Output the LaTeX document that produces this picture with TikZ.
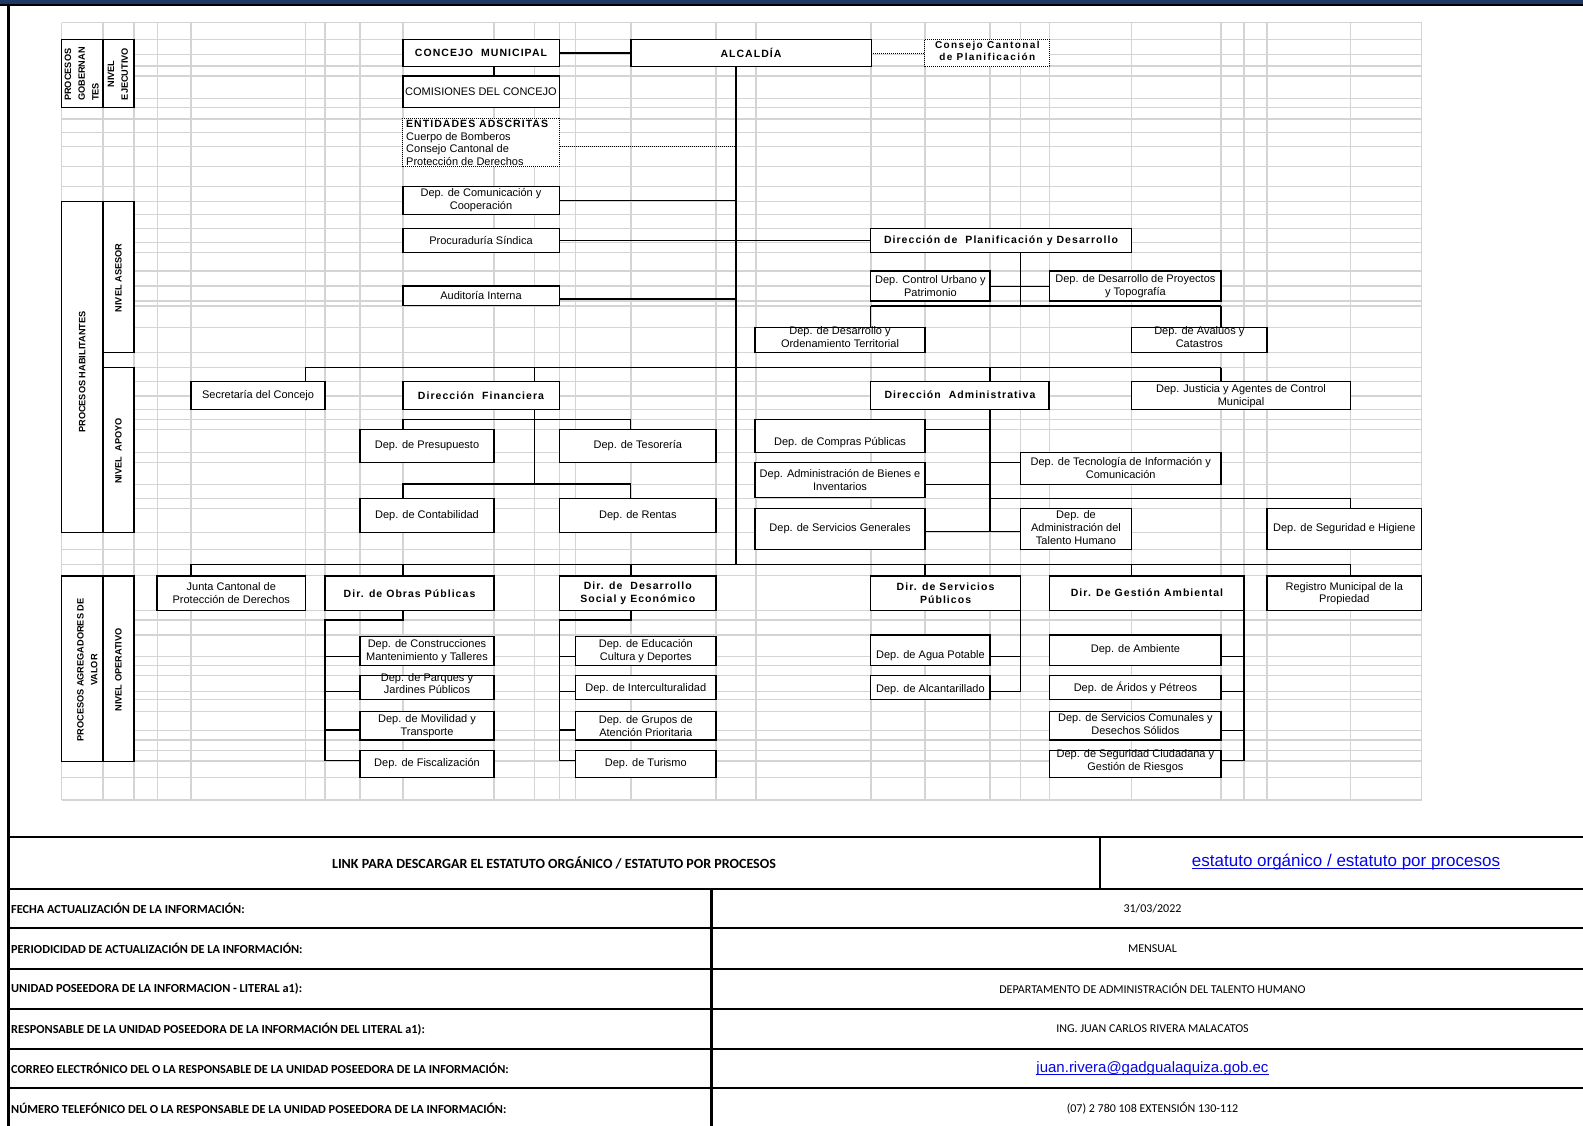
\documentclass[tikz,border=0pt]{standalone}
\usepackage{fontspec}
\setmainfont{Liberation Sans}
\newfontfamily\bspfont[LetterSpace=10]{Liberation Sans}
\newfontfamily\bspfontw[LetterSpace=14]{Liberation Sans}
\newfontfamily\carlfont{Carlito}
\usetikzlibrary{calc}
\pgfdeclarelayer{bg}
\pgfsetlayers{bg,main}
\definecolor{navy}{RGB}{31,56,100}
\definecolor{gridgray}{RGB}{212,212,212}
\definecolor{linkblue}{RGB}{5,5,230}
\tikzset{
 box/.style={draw=black,line width=1.3pt,fill=white,inner sep=0pt,outer sep=0pt},
 dbox/.style={draw=black,line width=0.9pt,dash pattern=on 1pt off 1pt,fill=white,inner sep=0pt,outer sep=0pt},
 conn/.style={draw=black,line width=1.3pt},
 dconn/.style={draw=black,line width=0.9pt,dash pattern=on 1pt off 1pt},
 gline/.style={draw=gridgray,line width=1.2pt},
 tline/.style={draw=black,line width=2.2pt},
 txt/.style={inner sep=0pt,align=center,font=\fontsize{11}{12.5}\selectfont},
 btxt/.style={inner sep=0pt,align=center,font=\bspfont\bfseries\fontsize{10.5}{13}\selectfont},
 bwtxt/.style={inner sep=0pt,align=center,font=\bspfontw\bfseries\fontsize{10}{12.2}\selectfont},
 sidelbl/.style={inner sep=0pt,align=center,rotate=90,font=\bfseries\fontsize{9.2}{13.8}\selectfont},
 tlab/.style={inner sep=0pt,anchor=west,font=\carlfont\bfseries\fontsize{12.3}{14}\selectfont},
 tbig/.style={inner sep=0pt,font=\carlfont\bfseries\fontsize{14}{16}\selectfont},
 tval/.style={inner sep=0pt,font=\carlfont\fontsize{12}{14}\selectfont},
 lnktxt/.style={inner sep=0pt,text=linkblue,font=\fontsize{17}{19}\selectfont},
 mailtxt/.style={inner sep=0pt,text=linkblue,font=\fontsize{15}{17}\selectfont},
}
\newcommand\mybox[6][box]{\node[#1,anchor=north west,minimum width={#4-#2},minimum height={#5-#3}] (#6) at (#2,#3) {};}
\newcommand\mytext[5][txt]{\node[#1] (#2) at (#3,#4) {#5};}
\begin{document}
\begin{tikzpicture}[x=1pt,y=-1pt]
\useasboundingbox (0,0) rectangle (1583,1126);
% top band and frame
\fill[navy] (0,0) rectangle (1583,4.3);
\fill[black] (0,4.3) rectangle (1583,6.3);
\draw[line width=3pt] (8,5) -- (8,1126);

% ---------- side labels ----------
\mybox{61.8}{39.3}{102.9}{107.7}{pg}
\mybox{102.9}{39.3}{133.9}{107.7}{ne}
\mybox{61.8}{201.7}{102.9}{532.3}{ph}
\mybox{102.9}{201.7}{133.9}{352.3}{na}
\mybox{102.9}{367.7}{133.9}{532.3}{nap}
\mybox{61.8}{576}{102.9}{761.7}{pav}
\mybox{102.9}{576}{133.9}{761.7}{nop}
\mytext[sidelbl,align=left]{tpg}{81.7}{74}{PROCESOS\\GOBERNAN\\TES}
\mytext[sidelbl]{tne}{117.9}{74}{NIVEL\\EJECUTIVO}
\mytext[sidelbl]{tph}{82.3}{372}{PROCESOS HABILITANTES}
\mytext[sidelbl]{tna}{118.4}{278}{NIVEL ASESOR}
\mytext[sidelbl]{tnap}{118.4}{451}{NIVEL\ \ APOYO}
\mytext[sidelbl]{tpav}{87.3}{670}{PROCESOS AGREGADORES DE\\VALOR}
\mytext[sidelbl]{tnop}{118.4}{670}{NIVEL OPERATIVO}

% ---------- executive level ----------
\mybox{402.9}{39.3}{559.6}{66.7}{concejo}
\mybox{631}{39.3}{871.3}{66.7}{alcaldia}
\mybox[dbox]{924.8}{39.3}{1049.8}{66.7}{ccp}
\mybox{402.9}{76}{559.6}{107.7}{comis}
\mybox[dbox]{402.9}{118.3}{559.6}{166.7}{ent}
\mytext[btxt]{tconcejo}{481}{53.3}{CONCEJO\ \ MUNICIPAL}
\mytext[btxt]{talc}{751}{53.3}{ALCALDÍA}
\mytext[bwtxt]{tccp}{987.3}{50.6}{Consejo Cantonal\\de Planificación}
\mytext{tcomis}{481}{91.5}{COMISIONES DEL CONCEJO}
\mytext[btxt,anchor=west]{tent1}{406}{124.3}{ENTIDADES ADSCRITAS}
\mytext[txt,anchor=west]{tent2}{406}{137.3}{Cuerpo de Bomberos}
\mytext[txt,anchor=west]{tent3}{406}{150}{Consejo Cantonal de}
\mytext[txt,anchor=west]{tent4}{406}{161.7}{Protección de Derechos}

% ---------- advisory level ----------
\mybox{402.9}{186.7}{559.6}{214.3}{comu}
\mybox{402.9}{228.3}{559.6}{252.3}{proc}
\mybox{402.9}{286}{559.6}{305.3}{aud}
\mybox{870.8}{228.3}{1131.6}{252.3}{plan}
\mybox{870.8}{271}{990}{301}{curb}
\mybox{1049.8}{271}{1221}{301}{dproy}
\mybox{755}{327.7}{925}{352.7}{dord}
\mybox{1131.6}{327.7}{1267}{352.7}{dava}
\mytext{tcomu}{481}{200}{Dep. de Comunicación y\\Cooperación}
\mytext{tproc}{481}{241}{Procuraduría Síndica}
\mytext{taud}{481}{296}{Auditoría Interna}
\mytext[btxt]{tplan}{1001}{240.7}{Dirección de\ \ Planificación y Desarrollo}
\mytext{tcurb}{930.4}{286}{Dep. Control Urbano y\\Patrimonio}
\mytext{tdproy}{1135.4}{286}{Dep. de Desarrollo de Proyectos\\y Topografía}
\mytext{tdord}{840}{337}{Dep. de Desarrollo y\\Ordenamiento Territorial}
\mytext{tdava}{1199.3}{337}{Dep. de Avalúos y\\Catastros}

% ---------- support level ----------
\mybox{191}{381.7}{325}{409.3}{secr}
\mybox{402.9}{381.7}{559.6}{409.3}{dfin}
\mybox{870.8}{381.7}{1049}{409.3}{dadm}
\mybox{1131.6}{381.7}{1350.5}{409.3}{djus}
\mybox{360}{429.3}{493.9}{462.7}{dpre}
\mybox{559.6}{429.3}{716}{462.3}{dtes}
\mybox{360}{498.3}{493.9}{532.3}{dcon}
\mybox{559.6}{498.3}{716}{532.3}{dren}
\mybox{755}{419.3}{925}{452.3}{dcom}
\mybox{755}{462.3}{925}{497.7}{dbie}
\mybox{755}{508.3}{925}{549.3}{dsg}
\mybox{1020.4}{452.3}{1221}{484.3}{dtic}
\mybox{1020.4}{508.3}{1131.6}{549.3}{dth}
\mybox{1267}{508.3}{1421.7}{549.3}{dseg}
\mytext{tsecr}{258}{395.5}{Secretaría del Concejo}
\mytext[btxt]{tdfin}{481}{395.5}{Dirección\ \ Financiera}
\mytext[btxt]{tdadm}{960}{395}{Dirección\ \ Administrativa}
\mytext{tdjus}{1241}{396}{Dep. Justicia y Agentes de Control\\Municipal}
\mytext{tdpre}{427}{446}{Dep. de Presupuesto}
\mytext{tdtes}{637.8}{446}{Dep. de Tesorería}
\mytext{tdcon}{427}{515.3}{Dep. de Contabilidad}
\mytext{tdren}{637.8}{515.3}{Dep. de Rentas}
\mytext{tdcom}{840}{443}{Dep. de Compras Públicas}
\mytext{tdbie}{840}{480}{Dep. Administración de Bienes e\\Inventarios}
\mytext{tdsg}{840}{529}{Dep. de Servicios Generales}
\mytext{tdtic}{1120.7}{468}{Dep. de Tecnología de Información y\\Comunicación}
\mytext[txt,font=\fontsize{11}{12.6}\selectfont]{tdth}{1076}{527.5}{Dep. de\\Administración del\\Talento Humano}
\mytext{tdseg}{1344.3}{529}{Dep. de Seguridad e Higiene}

% ---------- operative level ----------
\mybox{157.1}{576}{305.4}{610.3}{jcp}
\mybox{325}{576}{493.9}{610.3}{dop}
\mybox{559.6}{576}{716}{610.3}{dds}
\mybox{870.8}{576}{1020.4}{610.3}{dsp}
\mybox{1049.8}{576}{1244}{610.3}{dga}
\mybox{1267}{576}{1421.7}{610.3}{dreg}
\mytext{tjcp}{231.3}{593}{Junta Cantonal de\\Protección de Derechos}
\mytext[btxt]{tdop}{409.5}{593.3}{Dir. de Obras Públicas}
\mytext[btxt]{tdds}{637.8}{593.5}{Dir. de\ \ Desarrollo\\Social y Económico}
\mytext[btxt]{tdsp}{945.6}{593.5}{Dir. de Servicios\\Públicos}
\mytext[btxt]{tdga}{1147}{593}{Dir. De Gestión Ambiental}
\mytext{tdreg}{1344.3}{593.5}{Registro Municipal de la\\Propiedad}

\mybox{360}{636.7}{493.9}{665.7}{dcons}
\mybox{360}{675.7}{493.9}{699.3}{dpar}
\mybox{360}{711.7}{493.9}{740}{dmov}
\mybox{360}{750.7}{493.9}{777.3}{dfis}
\mytext{tdcons}{427}{651}{Dep. de Construcciones\\Mantenimiento y Talleres}
\mytext{tdpar}{427}{683.5}{Dep. de Parques y\\Jardines Públicos}
\mytext{tdmov}{427}{726.3}{Dep. de Movilidad y\\Transporte}
\mytext{tdfis}{427}{764}{Dep. de Fiscalización}

\mybox{575.7}{636.7}{716}{665.7}{dedu}
\mybox{575.7}{675.7}{716}{699.3}{dint}
\mybox{575.7}{711.7}{716}{740}{dgru}
\mybox{575.7}{750.7}{716}{777.3}{dtur}
\mytext{tdedu}{645.8}{651}{Dep. de Educación\\Cultura y Deportes}
\mytext{tdint}{645.8}{688.5}{Dep. de Interculturalidad}
\mytext{tdgru}{645.8}{726.3}{Dep. de Grupos de\\Atención Prioritaria}
\mytext{tdtur}{645.8}{764}{Dep. de Turismo}

\mybox{870.8}{635}{990}{665.7}{dagua}
\mybox{870.8}{675.7}{990}{699.3}{dalc}
\mytext{tdagua}{930.4}{656}{Dep. de Agua Potable}
\mytext{tdalc}{930.4}{689.5}{Dep. de Alcantarillado}

\mybox{1049.8}{635}{1221}{665.7}{damb}
\mybox{1049.8}{675.7}{1221}{699.3}{dari}
\mybox{1049.8}{711.7}{1221}{740}{dcmu}
\mybox{1049.8}{750.7}{1221}{777.3}{dsci}
\mytext{tdamb}{1135.4}{650}{Dep. de Ambiente}
\mytext{tdari}{1135.4}{688}{Dep. de Áridos y Pétreos}
\mytext{tdcmu}{1135.4}{724.2}{Dep. de Servicios Comunales y\\Desechos Sólidos}
\mytext{tdsci}{1135.4}{761}{Dep. de Seguridad Ciudadana y\\Gestión de Riesgos}

% junction coordinates
\coordinate (spine) at (736,564.3);
\coordinate (pv) at (1020.4,306);
\coordinate (mhl) at (305.4,367.5);
\coordinate (mhr) at (1221,367.5);
\coordinate (fv) at (534.6,484);
\coordinate (av) at (990,531.7);
\coordinate (bhl) at (191,564.3);
\coordinate (bhr) at (1350.5,564.3);
\coordinate (ov) at (325,760.7);
\coordinate (dv) at (559.6,760.7);
\coordinate (sv) at (1020.4,691.7);
\coordinate (gv) at (1244,760.7);

\begin{pgfonlayer}{bg}
% grid
\foreach \gx in {61.8,102.9,133.9,157.1,191,305.4,325,360,402.9,493.9,534.6,559.6,575.7,631,716,756,871,925,990,1020.4,1049.8,1131.6,1221,1244,1267,1350.6,1421.7}
  \draw[gline] (\gx,22.7) -- (\gx,800);
\foreach \gy in {22.7,39.3,54.3,66,76,98.3,107.7,119,132.7,146.7,166.7,186.7,201.7,214.3,228.3,242.7,252.3,271,286,301,306,327.7,352.5,367.5,381.7,396,409.3,419.3,429.3,452.3,462.5,484.2,498.3,508.3,532.3,549.3,564.3,575.7,610.3,620,635,656.7,665.7,675.7,691.7,699.3,711.7,730.7,740,750.7,761,777.3,800}
  \draw[gline] (61.8,\gy) -- (1421.7,\gy);
% executive connectors
\draw[conn] (concejo.east) -- (alcaldia.west);
\draw[dconn] (alcaldia.east) -- (ccp.west);
\draw[conn] (concejo.south -| 493.9,0) -- (comis.north -| 493.9,0);
\draw[conn] (alcaldia.south -| spine) -- (spine);
\draw[dconn] (ent.east |- 0,146.7) -- (spine |- 0,146.7);
% advisory connectors
\draw[conn] (comu.east) -- (comu.east -| spine);
\draw[conn] (proc.east) -- (plan.west);
\draw[conn] (aud.east |- 0,299) -- (spine |- 0,299);
\draw[conn] (plan.south -| pv) -- (pv);
\draw[conn] (curb.east |- 0,286.7) -- (dproy.west |- 0,286.7);
\draw[conn] (plan.west |- pv) -- (dproy.east |- pv);
\draw[conn] (plan.west |- pv) -- (plan.west |- dord.north);
\draw[conn] (dproy.east |- pv) -- (dproy.east |- dava.north);
% support connectors
\draw[conn] (mhl) -- (mhr);
\draw[conn] (mhl) -- (mhl |- secr.north);
\draw[conn] (mhl -| 534.6,0) -- (dfin.north -| 534.6,0);
\draw[conn] (mhl -| 990,0) -- (dadm.north -| 990,0);
\draw[conn] (mhr) -- (mhr |- djus.north);
\draw[conn] (dfin.south -| fv) -- (fv);
\draw[conn] (dpre.north -| 402.9,0) -- (402.9,419.3) -- (630.7,419.3) -- (dtes.north -| 630.7,0);
\draw[conn] (dcon.north -| 402.9,0) -- (402.9,484) -- (630.7,484) -- (dren.north -| 630.7,0);
\draw[conn] (dadm.south -| av) -- (av);
\draw[conn] (dcom.east |- 0,429.3) -- (av |- 0,429.3);
\draw[conn] (dbie.east |- 0,484.3) -- (av |- 0,484.3);
\draw[conn] (dsg.east |- av) -- (dth.west |- av);
\draw[conn] (av |- 0,462.3) -- (dtic.west |- 0,462.3);
\draw[conn] (av |- 0,498.3) -- (1350.5,498.3) -- (dseg.north -| 1350.5,0);
% operative connectors
\draw[conn] (bhl) -- (bhr);
\draw[conn] (bhl) -- (bhl |- jcp.north);
\draw[conn] (bhl -| 402.9,0) -- (dop.north -| 402.9,0);
\draw[conn] (bhl -| 631,0) -- (dds.north -| 631,0);
\draw[conn] (bhl -| 925,0) -- (dsp.north -| 925,0);
\draw[conn] (bhl -| 1131.6,0) -- (dga.north -| 1131.6,0);
\draw[conn] (bhr) -- (bhr |- dreg.north);
\draw[conn] (dop.south -| 402.9,0) -- (402.9,620) -- (ov |- 0,620) -- (ov);
\draw[conn] (ov |- 0,656.7) -- (dcons.west |- 0,656.7);
\draw[conn] (ov |- 0,691.7) -- (dpar.west |- 0,691.7);
\draw[conn] (ov |- 0,730) -- (dmov.west |- 0,730);
\draw[conn] (ov) -- (dfis.west |- ov);
\draw[conn] (dds.south -| 631,0) -- (631,620) -- (dv |- 0,620) -- (dv);
\draw[conn] (dv |- 0,656.7) -- (dedu.west |- 0,656.7);
\draw[conn] (dv |- 0,691.7) -- (dint.west |- 0,691.7);
\draw[conn] (dv |- 0,730) -- (dgru.west |- 0,730);
\draw[conn] (dv) -- (dtur.west |- dv);
\draw[conn] (dsp.south -| sv) -- (sv);
\draw[conn] (sv |- 0,656.7) -- (dagua.east |- 0,656.7);
\draw[conn] (sv) -- (dalc.east |- sv);
\draw[conn] (dga.south -| gv) -- (gv);
\draw[conn] (gv |- 0,656.7) -- (damb.east |- 0,656.7);
\draw[conn] (gv |- 0,691.7) -- (dari.east |- 0,691.7);
\draw[conn] (gv |- 0,730.7) -- (dcmu.east |- 0,730.7);
\draw[conn] (gv) -- (dsci.east |- gv);
\end{pgfonlayer}

% ---------- information table ----------
\foreach \ty in {837.3,889,928.3,969,1009,1049,1088.3}
  \draw[tline] (8,\ty) -- (1583,\ty);
\draw[tline] (1100,837.3) -- (1100,889);
\draw[tline] (711.5,889) -- (711.5,1126);
\mytext[tbig]{tlink}{554}{862.5}{LINK PARA DESCARGAR EL ESTATUTO ORGÁNICO / ESTATUTO POR PROCESOS}
\mytext[lnktxt]{lnk}{1346}{862}{estatuto orgánico / estatuto por procesos}
\draw[linkblue,line width=1pt] ([yshift=-2.3pt]lnk.base west) -- ([yshift=-2.3pt]lnk.base east);
\mytext[tlab]{l1}{11}{908.5}{FECHA ACTUALIZACIÓN DE LA INFORMACIÓN:}
\mytext[tlab]{l2}{11}{948.8}{PERIODICIDAD DE ACTUALIZACIÓN DE LA INFORMACIÓN:}
\mytext[tlab]{l3}{11}{988.8}{UNIDAD POSEEDORA DE LA INFORMACION - LITERAL a1):}
\mytext[tlab]{l4}{11}{1028.8}{RESPONSABLE DE LA UNIDAD POSEEDORA DE LA INFORMACIÓN DEL LITERAL a1):}
\mytext[tlab]{l5}{11}{1068.8}{CORREO ELECTRÓNICO DEL O LA RESPONSABLE DE LA UNIDAD POSEEDORA DE LA INFORMACIÓN:}
\mytext[tlab]{l6}{11}{1108.8}{NÚMERO TELEFÓNICO DEL O LA RESPONSABLE DE LA UNIDAD POSEEDORA DE LA INFORMACIÓN:}
\mytext[tval]{v1}{1152.5}{908.5}{31/03/2022}
\mytext[tval]{v2}{1152.5}{948.5}{MENSUAL}
\mytext[tval]{v3}{1152.5}{988.5}{DEPARTAMENTO DE ADMINISTRACIÓN DEL TALENTO HUMANO}
\mytext[tval]{v4}{1152.5}{1028.5}{ING. JUAN CARLOS RIVERA MALACATOS}
\mytext[mailtxt]{mail}{1152.5}{1068.3}{juan.rivera@gadgualaquiza.gob.ec}
\draw[linkblue,line width=0.9pt] ([yshift=-2pt]mail.base west) -- ([yshift=-2pt]mail.base east);
\mytext[tval]{v6}{1152.5}{1108.5}{(07) 2 780 108 EXTENSIÓN 130-112}
\end{tikzpicture}
\end{document}
